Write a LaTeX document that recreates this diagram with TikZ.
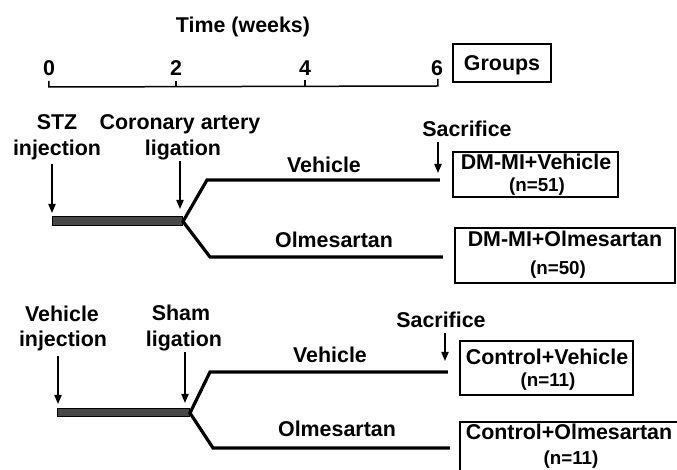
\documentclass[tikz,border=0pt]{standalone}
\usepackage{fontspec}
\setmainfont{Liberation Sans}
\usetikzlibrary{arrows.meta}
\begin{document}
\begin{tikzpicture}[x=0.5pt,y=-0.5pt,
  lbl/.style={inner sep=0pt,anchor=base,font=\fontsize{10.7}{13}\selectfont\bfseries},
  sub/.style={inner sep=0pt,anchor=base,font=\fontsize{9.4}{11}\selectfont\bfseries},
  axisline/.style={line width=0.75pt},
  gbox/.style={line width=0.7pt},
  branch/.style={line width=1.6pt,line join=miter},
  bar/.style={fill=black!72,draw=black,line width=0.5pt},
  pointer/.style={line width=0.75pt,-{Triangle[length=4.5pt,width=3.6pt]}}]
\useasboundingbox (0,0) rectangle (677,470);
% time axis
\node[lbl] (time) at (243,33) {Time (weeks)};
\node[lbl] (t0) at (49,76) {0};
\node[lbl] (t2) at (176,76) {2};
\node[lbl] (t4) at (305,76) {4};
\node[lbl] (t6) at (437,76) {6};
\coordinate (a0) at (49,87); \coordinate (a6) at (438,86);
\draw[axisline] (49,81) -- (a0) -- (a6) -- (438,79);
\draw[axisline] (176,81) -- (176,87);
\draw[axisline] (305,80) -- (305,86);
\draw[gbox] (453,44) rectangle (551,82);
\node[lbl] (groups) at (502,71) {Groups};
% ---- top section
\node[lbl] (stz1) at (57,130) {STZ};
\node[lbl] (stz2) at (57,156) {injection};
\node[lbl] (cor1) at (180,130) {Coronary artery};
\node[lbl] (cor2) at (183,156) {ligation};
\coordinate (s1a) at (52,164); \coordinate (s1b) at (52,213);
\coordinate (l1a) at (180,161); \coordinate (l1b) at (180,209);
\draw[pointer] (s1a) -- (s1b);
\draw[pointer] (l1a) -- (l1b);
\draw[bar] (53,217) rectangle (183,226);
\coordinate (f1) at (183,221.5);
\coordinate (u1) at (207,180); \coordinate (ue1) at (440,180);
\coordinate (d1) at (210,257); \coordinate (de1) at (443,257);
\draw[branch] (ue1) -- (u1) -- (f1) -- (d1) -- (de1);
\node[lbl] (veh1) at (324,173) {Vehicle};
\node[lbl] (olm1) at (334,248) {Olmesartan};
\node[lbl] (sac1) at (467,137) {Sacrifice};
\coordinate (sa1) at (438,142); \coordinate (sb1) at (438,173);
\draw[pointer] (sa1) -- (sb1);
\draw[gbox] (453,152) rectangle (618,197);
\node[lbl] (g1) at (536,170) {DM-MI+Vehicle};
\node[sub] (n1) at (537,192) {(n=51)};
\draw[gbox] (455,228) rectangle (675,283);
\node[lbl] (g2) at (565,247) {DM-MI+Olmesartan};
\node[sub] (n2) at (558,275) {(n=50)};
% ---- bottom section
\node[lbl] (vi1) at (62,322) {Vehicle};
\node[lbl] (vi2) at (63,347) {injection};
\node[lbl] (sh1) at (181,321) {Sham};
\node[lbl] (sh2) at (184,347) {ligation};
\coordinate (s2a) at (58,356); \coordinate (s2b) at (58,404);
\coordinate (l2a) at (185,352); \coordinate (l2b) at (185,403);
\draw[pointer] (s2a) -- (s2b);
\draw[pointer] (l2a) -- (l2b);
\draw[bar] (58,409) rectangle (190,417);
\coordinate (f2) at (190,413);
\coordinate (u2) at (210,372); \coordinate (ue2) at (448,372);
\coordinate (d2) at (213,448); \coordinate (de2) at (450,448);
\draw[branch] (ue2) -- (u2) -- (f2) -- (d2) -- (de2);
\node[lbl] (veh2) at (330,363) {Vehicle};
\node[lbl] (olm2) at (337,437) {Olmesartan};
\node[lbl] (sac2) at (441,328) {Sacrifice};
\coordinate (sa2) at (445,333); \coordinate (sb2) at (445,361);
\draw[pointer] (sa2) -- (sb2);
\draw[gbox] (460,341) rectangle (633,395);
\node[lbl] (g3) at (547,365) {Control+Vehicle};
\node[sub] (n3) at (548,387) {(n=11)};
\draw[gbox] (680,422) -- (460,422) -- (460,475);
\node[lbl] (g4) at (569,440) {Control+Olmesartan};
\node[sub] (n4) at (571,465) {(n=11)};
\end{tikzpicture}
\end{document}
